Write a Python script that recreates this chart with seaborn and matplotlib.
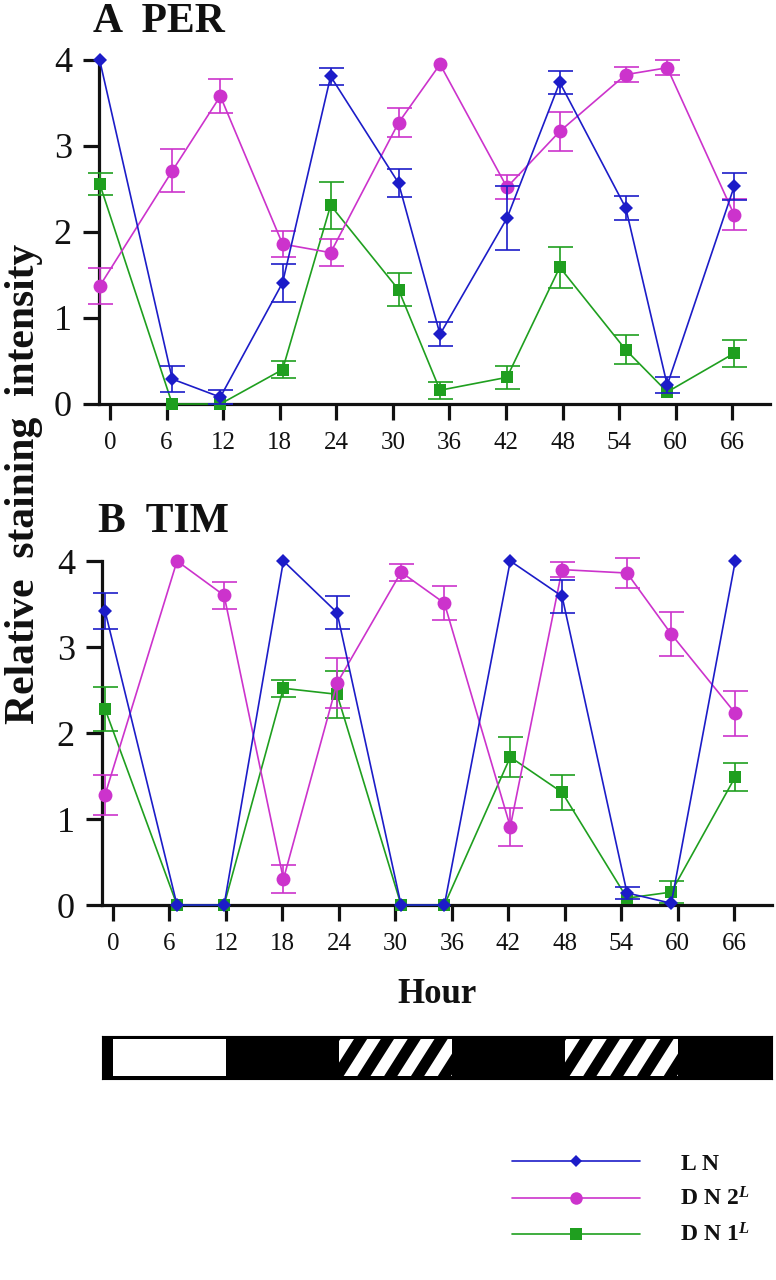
import numpy as np
import pandas as pd
import matplotlib
matplotlib.use('Agg')
import matplotlib.pyplot as plt
import seaborn as sns
from matplotlib.lines import Line2D
from matplotlib.patches import Rectangle, Polygon

# Hours (tick labels) and the positions the points were drawn at in each panel
hours = [0, 6, 12, 18, 24, 30, 36, 42, 48, 54, 60, 66]
x_per = [-1.1, 6.6, 11.7, 18.3, 23.4, 30.6, 35.0, 42.1, 47.7, 54.7, 59.1, 66.2]
x_tim = [-0.85, 6.8, 11.8, 18.1, 23.8, 30.6, 35.2, 42.2, 47.7, 54.6, 59.3, 66.1]

# A PER
per_ln = [4.0, 0.29, 0.08, 1.41, 3.81, 2.57, 0.81, 2.16, 3.74, 2.28, 0.22, 2.53]
per_ln_err = [0, 0.15, 0.08, 0.22, 0.10, 0.16, 0.14, 0.37, 0.13, 0.14, 0.09, 0.16]
per_dn2 = [1.37, 2.71, 3.58, 1.86, 1.76, 3.27, 3.95, 2.52, 3.17, 3.83, 3.91, 2.20]
per_dn2_err = [0.21, 0.25, 0.20, 0.15, 0.16, 0.17, 0, 0.14, 0.23, 0.09, 0.09, 0.18]
per_dn1 = [2.56, 0, 0, 0.40, 2.31, 1.33, 0.16, 0.31, 1.59, 0.63, 0.14, 0.59]
per_dn1_err = [0.13, 0, 0, 0.10, 0.27, 0.19, 0.10, 0.13, 0.24, 0.17, 0, 0.16]

# B TIM
tim_ln = [3.42, 0, 0, 4.0, 3.40, 0, 0, 4.0, 3.59, 0.14, 0.02, 4.0]
tim_ln_err = [0.21, 0, 0, 0, 0.19, 0, 0, 0, 0.19, 0.07, 0, 0]
tim_dn2 = [1.28, 4.0, 3.60, 0.30, 2.58, 3.87, 3.51, 0.91, 3.90, 3.86, 3.15, 2.23]
tim_dn2_err = [0.23, 0, 0.16, 0.16, 0.29, 0.10, 0.20, 0.22, 0.09, 0.17, 0.26, 0.26]
tim_dn1 = [2.28, 0, 0, 2.52, 2.45, 0, 0, 1.72, 1.31, 0.08, 0.15, 1.49]
tim_dn1_err = [0.26, 0, 0, 0.10, 0.27, 0, 0, 0.23, 0.20, 0, 0.13, 0.16]

# light regime bar (hours)
light_on = [(0, 12)]
subjective_day = [(24, 36), (48, 60)]

cells = ['DN1', 'DN2', 'LN']
colors = {'LN': '#1c1cc8', 'DN2': '#cc33cc', 'DN1': '#1f9f1f'}
markers = {'LN': 'D', 'DN2': 'o', 'DN1': 's'}
msizes = {'LN': 7, 'DN2': 10, 'DN1': 9}
labels = {'LN': r'$\mathbf{L\ N}$',
          'DN2': r'$\mathbf{D\ N\ 2}^{\mathit{L}}$',
          'DN1': r'$\mathbf{D\ N\ 1}^{\mathit{L}}$'}

sns.set_style('ticks')
plt.rcParams['font.family'] = ['Liberation Serif', 'DejaVu Serif']
plt.rcParams['text.color'] = '#111111'
plt.rcParams['xtick.labelcolor'] = '#111111'
plt.rcParams['ytick.labelcolor'] = '#111111'
plt.rcParams['axes.labelcolor'] = '#111111'
plt.rcParams['mathtext.fontset'] = 'custom'
plt.rcParams['mathtext.rm'] = 'Liberation Serif'
plt.rcParams['mathtext.bf'] = 'Liberation Serif:bold'
plt.rcParams['mathtext.it'] = 'Liberation Serif:bold:italic'

W, H = 776, 1280
fig = plt.figure(figsize=(W / 100, H / 100), dpi=100)
xlim = (-1.17, 70.0)


def panel(rect, xs, series, title, title_xy, xlabel=None):
    ax = fig.add_axes([rect[0] / W, 1 - rect[3] / H, (rect[2] - rect[0]) / W, (rect[3] - rect[1]) / H])
    rows = []
    for cell, (vals, errs) in series.items():
        for x, v, e in zip(xs, vals, errs):
            rows.append({'x': x, 'value': v, 'err': e, 'cell': cell})
    df = pd.DataFrame(rows)
    for cell in cells:
        d = df[df['cell'] == cell]
        z = {'DN1': 3, 'DN2': 4, 'LN': 5}[cell]
        e = d[d['err'] > 0]
        ax.errorbar(e['x'], e['value'], yerr=e['err'], fmt='none', ecolor=colors[cell],
                    elinewidth=1.2, capsize=9, capthick=1.2, zorder=z, clip_on=False)
        sns.lineplot(data=d, x='x', y='value', color=colors[cell], marker=markers[cell],
                     markersize=msizes[cell], markeredgewidth=0, linewidth=1.2,
                     sort=False, errorbar=None, ax=ax, zorder=z, clip_on=False)
    ax.set_xlim(*xlim)
    ax.set_ylim(0, 4)
    ax.set_xticks(hours)
    ax.set_xticklabels([str(h) for h in hours])
    ax.set_yticks([0, 1, 2, 3, 4])
    ax.set_yticklabels(['0', '1', '2', '3', '4'])
    sns.despine(ax=ax)
    for s in ['left', 'bottom']:
        ax.spines[s].set_linewidth(2.3)
        ax.spines[s].set_color('#111111')
    ax.tick_params(axis='both', length=11.5, width=2.3, color='#111111')
    ax.tick_params(axis='y', labelsize=26, pad=8)
    ax.tick_params(axis='x', labelsize=18, pad=9)
    ax.set_ylabel('')
    ax.set_xlabel(xlabel if xlabel else '')
    if xlabel:
        ax.xaxis.label.set_fontsize(25)
        ax.xaxis.label.set_fontweight('bold')
        ax.xaxis.labelpad = 16
    fig.text(title_xy[0] / W, 1 - title_xy[1] / H, title, fontsize=30,
             fontweight='bold', va='baseline', ha='left')
    return ax


ax_a = panel((99, 60, 770, 404), x_per,
             {'LN': (per_ln, per_ln_err), 'DN2': (per_dn2, per_dn2_err), 'DN1': (per_dn1, per_dn1_err)},
             'A  PER', (93, 32))
ax_b = panel((102, 561, 772, 905), x_tim,
             {'LN': (tim_ln, tim_ln_err), 'DN2': (tim_dn2, tim_dn2_err), 'DN1': (tim_dn1, tim_dn1_err)},
             'B  TIM', (98, 532), xlabel='Hour')

fig.text(24 / W, 1 - 484 / H, 'Relative  staining  intensity', rotation=90,
         fontsize=30, fontweight='bold', ha='center', va='center')

# light/dark bar
ax_bar = fig.add_axes([102 / W, 1 - 1079 / H, 670 / W, 43 / H])
ax_bar.set_xlim(*xlim)
ax_bar.set_ylim(0, 1)
ax_bar.set_facecolor('black')
ax_bar.tick_params(bottom=False, left=False, labelbottom=False, labelleft=False)
for s in ax_bar.spines.values():
    s.set_color('black')
for s0, s1 in light_on:
    ax_bar.axvspan(s0, s1, ymin=0.07, ymax=0.93, color='white', lw=0)
period, stripe_w, slant = 2.85, 1.45, 2.9
for s0, s1 in subjective_day:
    clip = Rectangle((s0, 0.07), s1 - s0, 0.86, facecolor='none', edgecolor='none')
    ax_bar.add_patch(clip)
    for k in np.arange(s0 + 0.3 - 2 * period, s1 + period, period):
        p = Polygon([(k, 0), (k + stripe_w, 0), (k + stripe_w + slant, 1), (k + slant, 1)],
                    closed=True, facecolor='white', edgecolor='none')
        ax_bar.add_patch(p)
        p.set_clip_path(clip)

# legend
handles = [Line2D([], [], color=colors[c], marker=markers[c], markersize=msizes[c] - 1,
                  markeredgewidth=0, linewidth=1.2) for c in ['LN', 'DN2', 'DN1']]
fig.legend(handles, [labels[c] for c in ['LN', 'DN2', 'DN1']], loc='center left',
           bbox_to_anchor=(512 / W, 1 - 1200 / H), frameon=False, fontsize=17,
           handlelength=5.4, handletextpad=1.7, labelspacing=0.55,
           borderpad=0, borderaxespad=0)

fig.savefig('out.png', dpi=100)
